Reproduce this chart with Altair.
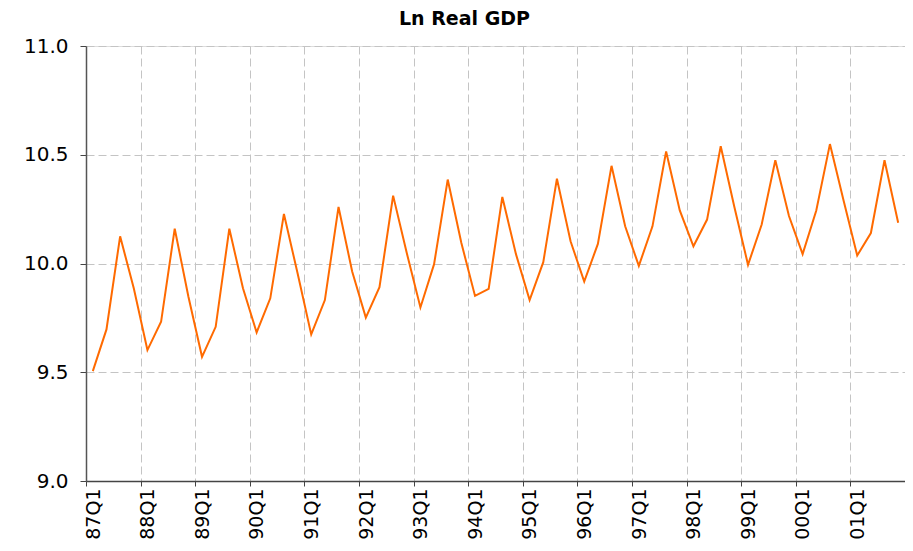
import altair as alt
import pandas as pd

# Quarterly Ln Real GDP, 87Q1 .. 01Q4
quarters = [f"{y % 100:02d}Q{q}" for y in range(1987, 2002) for q in range(1, 5)]
values = [
    9.505, 9.697, 10.125, 9.886,
    9.602, 9.732, 10.160, 9.848,
    9.571, 9.709, 10.160, 9.886,
    9.683, 9.840, 10.228, 9.955,
    9.674, 9.832, 10.260, 9.963,
    9.751, 9.891, 10.312, 10.048,
    9.798, 9.997, 10.386, 10.094,
    9.851, 9.883, 10.306, 10.043,
    9.832, 10.006, 10.390, 10.102,
    9.917, 10.090, 10.449, 10.171,
    9.989, 10.171, 10.515, 10.244,
    10.079, 10.202, 10.539, 10.260,
    9.994, 10.179, 10.475, 10.218,
    10.043, 10.244, 10.549, 10.290,
    10.037, 10.140, 10.475, 10.187,
]
year_labels = ["87Q1", "88Q1", "89Q1", "90Q1", "91Q1", "92Q1", "93Q1", "94Q1",
               "95Q1", "96Q1", "97Q1", "98Q1", "99Q1", "00Q1", "01Q1"]
y_ticks = [9.0, 9.5, 10.0, 10.5, 11.0]

df = pd.DataFrame({"quarter": quarters, "gdp": values, "seq": list(range(len(values)))})

label_array = "[" + ",".join(f"'{s}'" for s in year_labels) + "]"

chart = (
    alt.Chart(df)
    .transform_calculate(t="datum.seq + 0.5")
    .mark_line(color="#FF6A00", strokeWidth=2)
    .encode(
        x=alt.X(
            "t:Q",
            scale=alt.Scale(domain=[0, len(values)], nice=False, zero=False),
            axis=alt.Axis(
                title=None,
                values=list(range(0, len(values) + 1, 4)),
                labelExpr=f"{label_array}[datum.value/4] || ''",
                labelAngle=270,
                labelBaseline="middle",
                labelAlign="right",
                labelOffset=7,
                labelFont="DejaVu Sans",
                labelFontSize=19,
                labelColor="#000000",
                labelPadding=2,
                tickSize=5,
                tickColor="#444444",
                domainColor="#444444",
                domainWidth=1.5,
                grid=True,
                gridColor="#c4c4c4",
                gridDash=[8, 4],
                gridWidth=1,
            ),
        ),
        y=alt.Y(
            "gdp:Q",
            scale=alt.Scale(domain=[9, 11], nice=False, zero=False),
            axis=alt.Axis(
                title=None,
                values=y_ticks,
                format=".1f",
                labelFont="DejaVu Sans",
                labelFontSize=20,
                labelColor="#000000",
                labelPadding=12,
                tickSize=6,
                tickColor="#444444",
                domainColor="#555555",
                domainWidth=1.5,
                grid=True,
                gridColor="#c4c4c4",
                gridDash=[8, 4],
                gridWidth=1,
            ),
        ),
    )
    .properties(
        width=819,
        height=435,
        title=alt.TitleParams(
            "Ln Real GDP",
            font="DejaVu Sans",
            fontSize=19,
            fontWeight="bold",
            color="#000000",
            anchor="middle",
            frame="bounds",
            offset=7,
        ),
        autosize=alt.AutoSizeParams(type="none"),
        padding={"left": 78, "top": 38, "right": 0, "bottom": 58},
    )
    .configure_view(stroke=None)
    .configure(background="white")
)

chart.save("out.html", embed_options={"renderer": "svg", "actions": False})
